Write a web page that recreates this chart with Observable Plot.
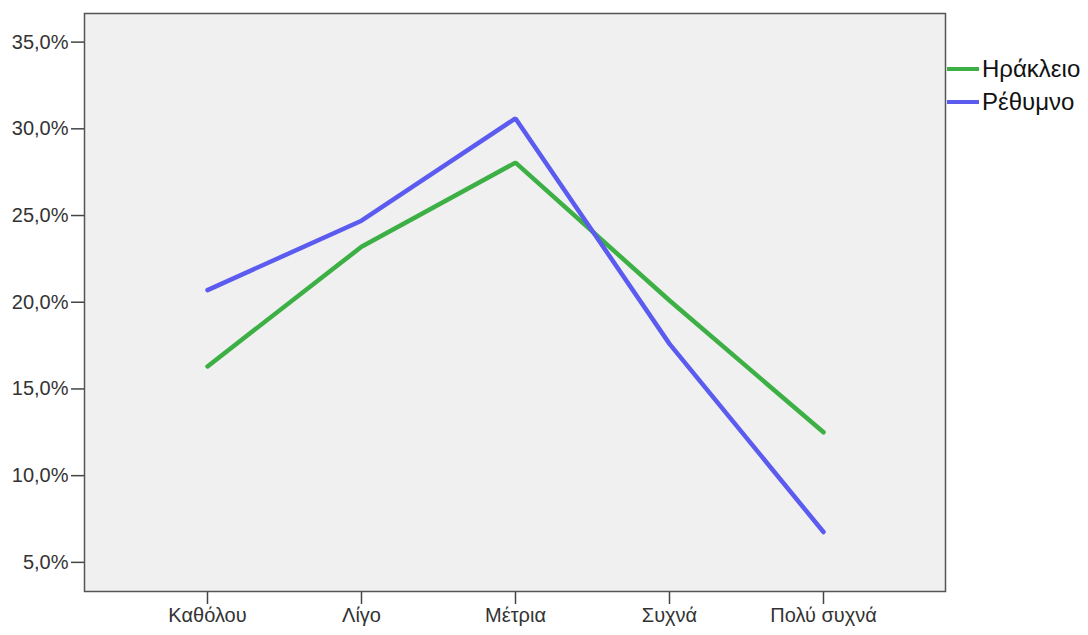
<!DOCTYPE html>
<html>
<head>
<meta charset="utf-8">
<script src="https://cdn.jsdelivr.net/npm/d3@7"></script>
<script src="https://cdn.jsdelivr.net/npm/@observablehq/plot@0.6"></script>
<style>
  html, body { margin: 0; padding: 0; background: #fff; }
  #wrap { position: relative; width: 1088px; height: 635px; }
  #legend { position: absolute; left: 947px; top: 52px; font-family: "Liberation Sans", Arial, sans-serif; font-size: 24px; color: #111; }
  .item { display: flex; align-items: center; height: 33px; }
  .sw { width: 32px; height: 4px; margin-right: 3px; }
</style>
</head>
<body>
<div id="wrap"><div id="legend"></div></div>
<script>
const categories = ["Καθόλου", "Λίγο", "Μέτρια", "Συχνά", "Πολύ συχνά"];
const series = ["Ηράκλειο", "Ρέθυμνο"];
const heraklion = [16.3, 23.2, 28.05, 20.1, 12.5];
const rethymno = [20.7, 24.7, 30.6, 17.6, 6.75];
const colors = ["#3cb044", "#5b5bf0"];
const yTicks = [5, 10, 15, 20, 25, 30, 35];

const values = [heraklion, rethymno];
const data = [];
series.forEach((s, i) => categories.forEach((c, j) => data.push({series: s, cat: c, value: values[i][j]})));

const chart = Plot.plot({
  width: 1088,
  height: 635,
  marginLeft: 84,
  marginRight: 143,
  marginTop: 13,
  marginBottom: 44,
  style: {fontFamily: "Liberation Sans, Arial, sans-serif", fontSize: "20px", background: "white", color: "#333"},
  x: {type: "point", domain: categories, padding: 0.78, label: null},
  y: {domain: [3.32, 36.65], label: null},
  color: {domain: series, range: colors},
  marks: [
    Plot.frame({fill: "#f0f0f0", stroke: null}),
    Plot.axisX({tickSize: 13, tickPadding: 3, label: null, stroke: "#444", strokeWidth: 1.5}),
    Plot.axisY({ticks: yTicks, tickSize: 13, tickPadding: 3, label: null, stroke: "#444", strokeWidth: 1.5,
      tickFormat: d => d.toFixed(1).replace(".", ",") + "%"}),
    Plot.line(data, {x: "cat", y: "value", z: "series", stroke: "series", strokeWidth: 4.5, strokeLinejoin: "miter"}),
    Plot.frame({stroke: "#555", strokeWidth: 1.5})
  ]
});
document.getElementById("wrap").prepend(chart);

const legend = document.getElementById("legend");
series.forEach((s, i) => {
  const it = document.createElement("div");
  it.className = "item";
  it.innerHTML = `<div class="sw" style="background:${colors[i]}"></div><span>${s}</span>`;
  legend.appendChild(it);
});
</script>
</body>
</html>
